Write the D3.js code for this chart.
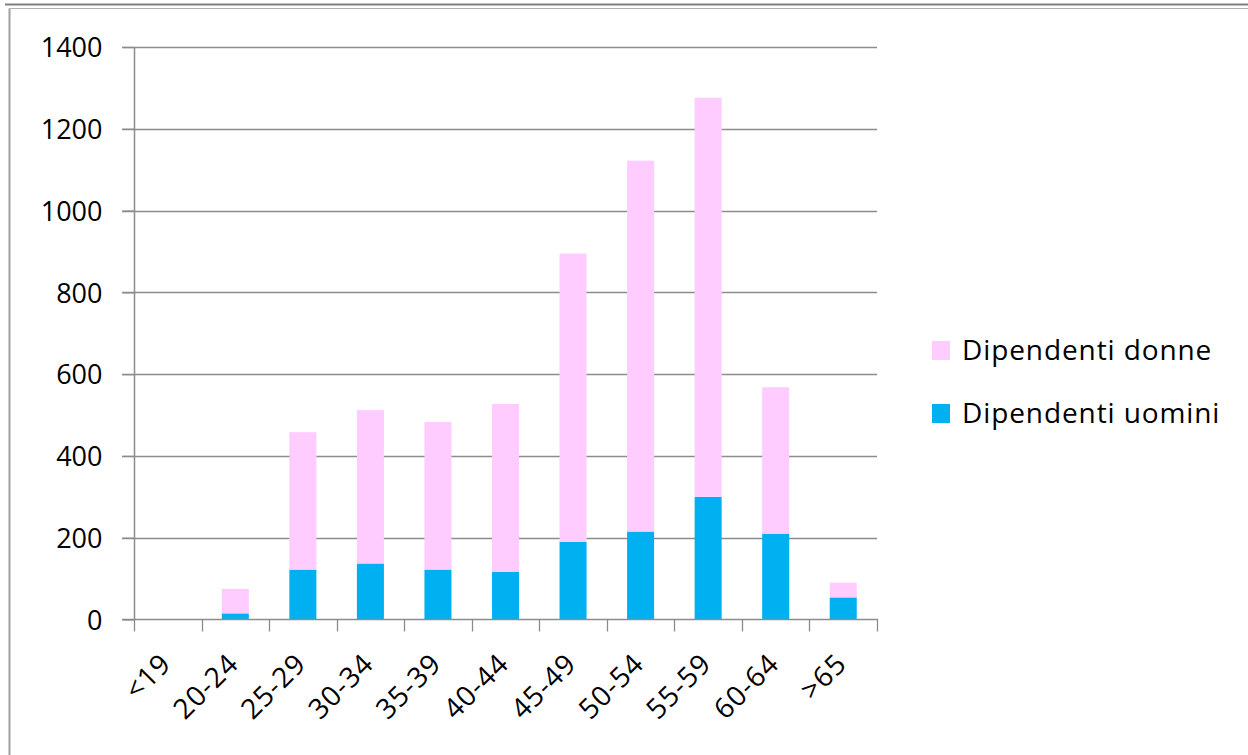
<!DOCTYPE html>
<html>
<head>
<meta charset="utf-8">
<script src="https://cdn.jsdelivr.net/npm/d3@7"></script>
<style>
  html, body { margin: 0; padding: 0; background: #fff; }
  svg { display: block; }
  text { font-family: "Open Sans", "Lato", sans-serif; fill: #000; }
</style>
</head>
<body>
<svg id="chart" width="1248" height="755"></svg>
<script>
// Age bands and headcounts per band
const categories = ["<19", "20-24", "25-29", "30-34", "35-39", "40-44", "45-49", "50-54", "55-59", "60-64", ">65"];
const uomini = [0, 15, 122, 137, 122, 117, 190, 215, 300, 210, 54];
const donne  = [0, 60, 336, 375, 361, 410, 705, 907, 976, 358, 36];
const seriesNames = ["Dipendenti uomini", "Dipendenti donne"];
const seriesColors = ["#00B0F0", "#FFCCFF"];
const yTicks = [0, 200, 400, 600, 800, 1000, 1200, 1400];

const svg = d3.select("#chart");
const W = 1248, H = 755;

// outer frame
svg.append("line").attr("x1", 5).attr("x2", W).attr("y1", 4.5).attr("y2", 4.5)
  .attr("stroke", "#7f7f7f").attr("stroke-width", 2);
svg.append("line").attr("x1", 9.5).attr("x2", W).attr("y1", 8.5).attr("y2", 8.5)
  .attr("stroke", "#b0b0b0").attr("stroke-width", 1);
svg.append("line").attr("x1", 9.5).attr("x2", 9.5).attr("y1", 8.5).attr("y2", H)
  .attr("stroke", "#a0a0a0").attr("stroke-width", 2);

const plot = { left: 134, right: 877, top: 47, bottom: 619.5 };

const x = d3.scaleBand().domain(categories).range([plot.left, plot.right]).paddingInner(0.6).paddingOuter(0.3);
const xTicks = d3.scaleBand().domain(categories).range([plot.left, plot.right]);
const y = d3.scaleLinear().domain([0, 1400]).range([plot.bottom, plot.top]);

// gridlines
svg.append("g").selectAll("line").data(yTicks.filter(d => d > 0)).join("line")
  .attr("x1", plot.left - 12).attr("x2", plot.right)
  .attr("y1", d => Math.round(y(d)) + 0.5).attr("y2", d => Math.round(y(d)) + 0.5)
  .attr("stroke", "#8c8c8c").attr("stroke-width", 1.3);

// stacked bars
const rows = categories.map((c, i) => ({ cat: c, "Dipendenti uomini": uomini[i], "Dipendenti donne": donne[i] }));
const stacked = d3.stack().keys(seriesNames)(rows);
svg.append("g").selectAll("g").data(stacked).join("g")
  .attr("fill", (d, i) => seriesColors[i])
  .selectAll("rect").data(d => d).join("rect")
  .attr("x", d => x(d.data.cat))
  .attr("width", x.bandwidth())
  .attr("y", d => y(d[1]))
  .attr("height", d => y(d[0]) - y(d[1]));

// y axis
const yAxis = d3.axisLeft(y).tickValues(yTicks).tickSize(12).tickPadding(20).tickFormat(d3.format("d"));
const gy = svg.append("g").attr("transform", `translate(${plot.left + 0.5},0)`).call(yAxis);
gy.select(".domain").attr("stroke", "#8c8c8c").attr("stroke-width", 1.5).attr("d", `M0,${plot.top}V${plot.bottom}`);
gy.selectAll(".tick line").attr("stroke", "#8c8c8c").attr("stroke-width", 1.3);
gy.selectAll(".tick text").attr("font-size", 27).attr("font-family", "Open Sans").attr("fill", "#000").attr("dy", "0.36em");

// x axis: ticks on band boundaries
const gx = svg.append("g").attr("transform", `translate(0,${plot.bottom})`);
gx.append("line").attr("x1", plot.left - 12).attr("x2", plot.right + 1)
  .attr("stroke", "#8c8c8c").attr("stroke-width", 1.5);
const bounds = categories.map(c => xTicks(c)).concat([plot.right]);
gx.selectAll("line.tk").data(bounds).join("line").attr("class", "tk")
  .attr("x1", d => Math.round(d) + 0.5).attr("x2", d => Math.round(d) + 0.5)
  .attr("y1", 0).attr("y2", 12)
  .attr("stroke", "#8c8c8c").attr("stroke-width", 1.3);
gx.selectAll("text").data(categories).join("text")
  .attr("transform", d => `translate(${xTicks(d) + xTicks.bandwidth() / 2 + 5},${46}) rotate(-45)`)
  .attr("text-anchor", "end")
  .attr("font-size", 28)
  .attr("letter-spacing", 1)
  .text(d => d);

// legend
const legendItems = [
  { name: "Dipendenti donne", color: seriesColors[1] },
  { name: "Dipendenti uomini", color: seriesColors[0] }
];
const lg = svg.append("g").attr("transform", "translate(932,341)");
legendItems.forEach((d, i) => {
  const g = lg.append("g").attr("transform", `translate(0,${i * 63})`);
  g.append("rect").attr("width", 18).attr("height", 19).attr("fill", d.color);
  g.append("text").attr("x", 30).attr("y", 19).attr("font-size", 28)
    .attr("letter-spacing", 0.9).text(d.name);
});
</script>
</body>
</html>
